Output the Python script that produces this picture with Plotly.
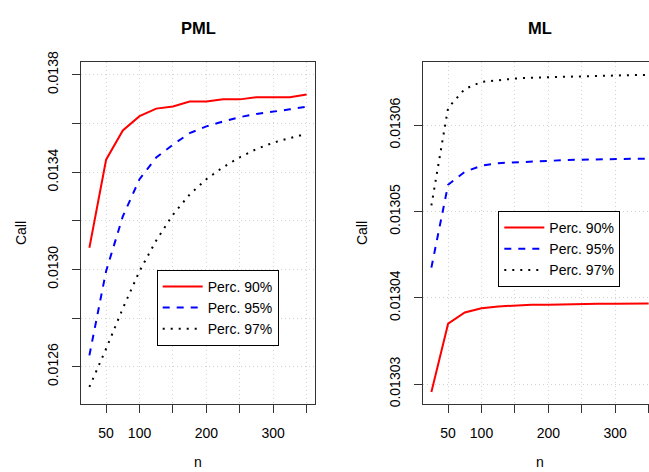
import plotly.graph_objects as go

n = [25, 50, 75, 100, 125, 150, 175, 200, 225, 250, 275, 300, 325, 350]

pml_90 = [0.013089, 0.013451, 0.013571, 0.013630, 0.013661, 0.013670, 0.013690,
          0.013690, 0.013699, 0.013699, 0.013708, 0.013708, 0.013708, 0.013719]
pml_95 = [0.012647, 0.012993, 0.013218, 0.013371, 0.013460, 0.013513, 0.013560,
          0.013588, 0.013608, 0.013626, 0.013639, 0.013647, 0.013658, 0.013669]
pml_97 = [0.012517, 0.012674, 0.012840, 0.012993, 0.013119, 0.013225, 0.013308,
          0.013371, 0.013420, 0.013461, 0.013495, 0.013521, 0.013540, 0.013557]

ml_90 = [0.0130291, 0.0130370, 0.0130383, 0.0130388, 0.0130390, 0.0130391, 0.0130392,
         0.0130392, 0.01303925, 0.01303925, 0.0130393, 0.0130393, 0.01303935, 0.01303935]
ml_95 = [0.0130435, 0.0130531, 0.0130546, 0.0130553, 0.0130556, 0.0130557, 0.0130558,
         0.0130559, 0.01305595, 0.0130560, 0.01305605, 0.01305605, 0.0130561, 0.0130561]
ml_97 = [0.0130507, 0.0130620, 0.0130642, 0.0130650, 0.0130652, 0.0130654, 0.0130655,
         0.01306555, 0.0130656, 0.0130657, 0.0130657, 0.01306575, 0.0130658, 0.0130658]

series_names = ["Perc. 90%", "Perc. 95%", "Perc. 97%"]
x_tickvals = [50, 100, 150, 200, 250, 300, 350]
x_ticktext = ["50", "100", "", "200", "", "300", ""]
pml_tickvals = [0.0126, 0.0128, 0.0130, 0.0132, 0.0134, 0.0136, 0.0138]
pml_ticktext = ["0.0126", "", "0.0130", "", "0.0134", "", "0.0138"]
ml_tickvals = [0.01303, 0.01304, 0.01305, 0.01306]
ml_ticktext = ["0.01303", "0.01304", "0.01305", "0.01306"]

FONT = "Liberation Sans, Arial, Helvetica, sans-serif"
styles = [dict(color="#FF0000", width=2, dash="solid"),
          dict(color="#0000FF", width=2, dash="7px,7px"),
          dict(color="#000000", width=2, dash="2px,6px")]

fig = go.Figure()
for ys, name, st in zip([pml_90, pml_95, pml_97], series_names, styles):
    fig.add_trace(go.Scatter(x=n, y=ys, mode="lines", name=name, line=st,
                             xaxis="x", yaxis="y", legend="legend"))
for ys, name, st in zip([ml_90, ml_95, ml_97], series_names, styles):
    fig.add_trace(go.Scatter(x=n, y=ys, mode="lines", name=name, line=st,
                             xaxis="x2", yaxis="y2", legend="legend2"))

W, H = 649, 472
L1, R1 = 80.7, 315.3
L2 = 422.7
TOP, BOT = 52.7, 405.0
ydom = [1 - BOT / H, 1 - TOP / H]

axcol = "#333333"
common_x = dict(tickmode="array", tickvals=x_tickvals, ticktext=x_ticktext,
                ticks="outside", ticklen=8, tickcolor=axcol, tickwidth=1,
                showline=True, linecolor=axcol, linewidth=1, mirror=True,
                showgrid=True, gridcolor="#D3D3D3", griddash="1px,3px", gridwidth=1,
                zeroline=False, ticklabelstandoff=8,
                tickfont=dict(family=FONT, size=14, color="#000000"))
common_y = dict(tickmode="array", ticks="outside", ticklen=8, tickcolor=axcol, tickwidth=1,
                showline=True, linecolor=axcol, linewidth=1,
                showgrid=True, gridcolor="#D3D3D3", griddash="1px,3px", gridwidth=1,
                zeroline=False, tickangle=-90, ticklabelstandoff=8,
                tickfont=dict(family=FONT, size=14, color="#000000"))

legend_common = dict(xanchor="left", yanchor="top", bordercolor="#000000", borderwidth=1,
                     bgcolor="white", font=dict(family=FONT, size=14), tracegroupgap=0,
                     itemwidth=40)

fig.update_layout(
    width=W, height=H,
    margin=dict(l=0, r=0, t=0, b=0),
    paper_bgcolor="white", plot_bgcolor="white",
    font=dict(family=FONT, size=14, color="#000000"),
    xaxis=dict(domain=[L1 / W, R1 / W], range=[12, 363], anchor="y", **common_x),
    yaxis=dict(domain=ydom, range=[0.012447, 0.013852], anchor="x",
               tickvals=pml_tickvals, ticktext=pml_ticktext, mirror=True, **common_y),
    xaxis2=dict(domain=[L2 / W, 1.0], range=[12, 350.6], anchor="y2", **common_x),
    yaxis2=dict(domain=ydom, range=[0.0130277, 0.0130673], anchor="x2",
                tickvals=ml_tickvals, ticktext=ml_ticktext, mirror=False, **common_y),
    legend=dict(x=156.7 / W, y=1 - 266.7 / H, **legend_common),
    legend2=dict(x=498.3 / W, y=1 - 206 / H, **legend_common),
    showlegend=True,
    annotations=[
        dict(text="<b>PML</b>", x=(L1 + R1) / 2 / W, y=1 - 18 / H, xref="paper", yref="paper",
             showarrow=False, font=dict(family=FONT, size=16.5), xanchor="center", yanchor="middle"),
        dict(text="<b>ML</b>", x=540 / W, y=1 - 18 / H, xref="paper", yref="paper",
             showarrow=False, font=dict(family=FONT, size=16.5), xanchor="center", yanchor="middle"),
        dict(text="Call", x=21 / W, y=(1 - (TOP + BOT) / 2 / H), xref="paper", yref="paper",
             showarrow=False, textangle=-90, font=dict(family=FONT, size=14),
             xanchor="center", yanchor="middle"),
        dict(text="Call", x=362 / W, y=(1 - (TOP + BOT) / 2 / H), xref="paper", yref="paper",
             showarrow=False, textangle=-90, font=dict(family=FONT, size=14),
             xanchor="center", yanchor="middle"),
        dict(text="n", x=(L1 + R1) / 2 / W, y=1 - 465 / H, xref="paper", yref="paper",
             showarrow=False, font=dict(family=FONT, size=14), xanchor="center", yanchor="middle"),
        dict(text="n", x=540 / W, y=1 - 465 / H, xref="paper", yref="paper",
             showarrow=False, font=dict(family=FONT, size=14), xanchor="center", yanchor="middle"),
    ],
)

fig.write_html(
    "out.html",
    config={"displayModeBar": False},
    post_script="document.body.style.margin='0';document.body.style.padding='0';"
                "document.documentElement.style.overflow='hidden';",
)
